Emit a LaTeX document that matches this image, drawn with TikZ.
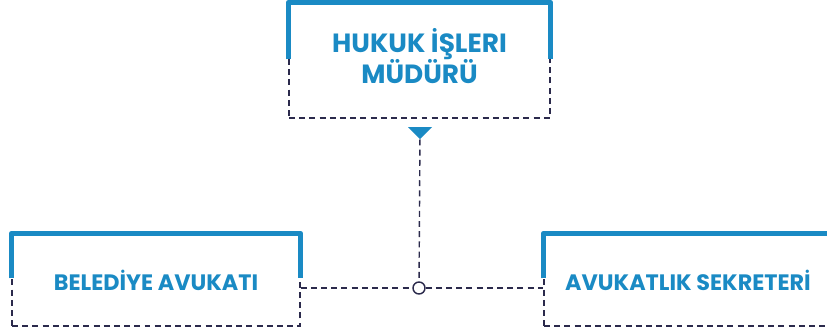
\documentclass[tikz,border=0pt]{standalone}
\usepackage{fontspec}
\setmainfont{Poppins}
\usetikzlibrary{shapes.geometric}
\definecolor{azul}{HTML}{1A8AC4}
\definecolor{marino}{HTML}{2B2A4C}
\tikzset{
  caja/.style={draw=marino, line width=0.8pt, dash pattern=on 3.4pt off 2.4pt,
    rectangle, align=center, text=azul, font=\bfseries},
  borde/.style={draw=azul, line width=2.9pt, line join=round},
  enlace/.style={draw=marino, line width=0.8pt, dash pattern=on 3.4pt off 2.4pt},
}
\begin{document}
\begin{tikzpicture}
  \useasboundingbox (0,0) rectangle (16.54,6.66);
  \clip (0,0) rectangle (16.54,6.66);

  % Cajas
  \node[caja, minimum width=5.22cm, minimum height=2.3cm] (jefe) at (8.39,5.45) {};
  \node[text=azul, align=center, font=\bfseries\fontsize{15}{18}\selectfont]
    (jefetxt) at (8.39,5.54) {HUKUK İŞLERI\\MÜDÜRÜ};
  \node[caja, minimum width=5.76cm, minimum height=1.84cm, font=\bfseries\fontsize{12.7}{14}\selectfont,
    text depth=-0.16cm] (avukat) at (3.12,1.06) {BELEDİYE AVUKATI};
  \node[caja, minimum width=5.76cm, minimum height=1.84cm, font=\bfseries\fontsize{12.7}{14}\selectfont,
    text depth=-0.16cm] (sekreter) at (13.76,1.06) {AVUKATLIK SEKRETERİ};

  % Bordes azules
  \draw[borde] ([yshift=-1.14cm]jefe.north west) -- (jefe.north west) -- (jefe.north east) -- ([yshift=-1.14cm]jefe.north east);
  \draw[borde] ([yshift=-0.9cm]avukat.north west) -- (avukat.north west) -- (avukat.north east) -- ([yshift=-0.9cm]avukat.north east);
  \draw[borde] ([yshift=-0.9cm]sekreter.north west) -- (sekreter.north west) -- (sekreter.north east) -- ([yshift=-0.9cm]sekreter.north east);

  % Flecha y union
  \node[isosceles triangle, shape border rotate=-90, isosceles triangle apex angle=90,
    fill=azul, inner sep=0pt, minimum width=0.48cm, minimum height=0.24cm] (flecha) at (8.4,4.02) {};
  \node[circle, draw=marino, fill=white, line width=0.8pt, inner sep=0pt, minimum size=0.24cm] (nudo) at (8.38,0.9) {};

  \draw[enlace] (flecha) -- (nudo);
  \draw[enlace] (avukat.east |- nudo) -- (nudo);
  \draw[enlace] (nudo) -- (sekreter.west |- nudo);
\end{tikzpicture}
\end{document}
